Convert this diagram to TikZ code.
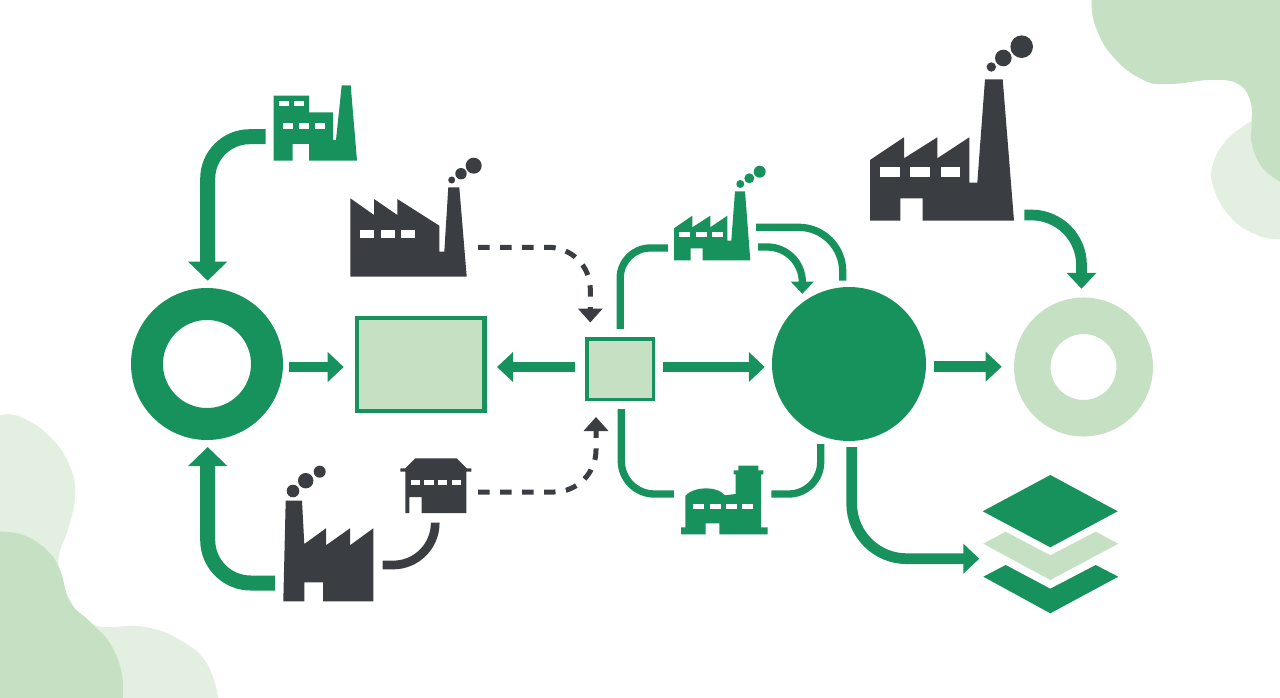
\documentclass[tikz,border=0pt]{standalone}
\usetikzlibrary{arrows.meta}
\definecolor{leaf}{HTML}{18925C}
\definecolor{ink}{HTML}{3A3D42}
\definecolor{pale}{HTML}{C5E0C2}
\definecolor{mist}{HTML}{E3EFE0}
\begin{document}
\begin{tikzpicture}[x=1pt,y=-1pt,
	icon/.style={inner sep=0pt,outer sep=0pt},
	pane/.style={fill=white},
	ring/.style={circle,inner sep=0pt,fill=white},
	panel/.style={draw=leaf,fill=pale,inner sep=0pt},
	bigflow/.style={draw=leaf,line width=15pt,-{Triangle[length=19pt,width=38pt]}},
	midflow/.style={draw=leaf,line width=10.7pt,-{Triangle[length=16pt,width=29pt]}},
	wire/.style={draw=leaf,line width=7.3pt},
	dashflow/.style={draw=ink,line width=5pt,dash pattern=on 11.5pt off 10.5pt,rounded corners=42pt,-{Triangle[length=14pt,width=24pt]}}]
	\useasboundingbox (0,0) rectangle (1280,698);
	\fill[white] (0,0) rectangle (1280,698);
	\fill[mist] plot[smooth,tension=0.75] coordinates {(1250,121.7) (1226.7,140) (1213.3,163.3) (1213.3,186.7) (1230,216.7) (1256.7,235) (1280,239.3)} -- (1280,121.7) -- cycle;
	\fill[pale] plot[smooth,tension=0.75] coordinates {(1091.7,0) (1095,25) (1113,56.7) (1143.3,80) (1170,84) (1210,80) (1236.7,83.3) (1250,100) (1251.7,123.3) (1251.7,143) (1261.7,166.7) (1280,181.7)} -- (1280,0) -- cycle;
	\fill[mist] plot[smooth,tension=0.75] coordinates {(0,415.3) (20,416.7) (50,436.7) (70,466.7) (75,496.7) (68.3,528.3) (58.3,563) (70,600) (93.3,625) (143,626.7) (180,640) (206.7,663.3) (218.3,698)} -- (0,698) -- cycle;
	\fill[pale] plot[smooth,tension=0.75] coordinates {(0,531.7) (23.3,535) (46.7,550) (60,570) (70,601.7) (90,621.7) (110,643.3) (121.7,673.3) (122.7,698)} -- (0,698) -- cycle;

	\node[ring,draw=leaf,line width=32pt,minimum size=120pt] (ringa) at (207,364) {};
	\node[panel,line width=4.5pt,minimum width=127.5pt,minimum height=93pt] (tank) at (420.7,364.5) {};
	\node[panel,line width=3.5pt,minimum width=66.8pt,minimum height=60.5pt] (hub) at (620.2,369.3) {};
	\node[circle,inner sep=0pt,fill=leaf,minimum size=154pt] (core) at (849,364) {};
	\node[ring,draw=pale,line width=36.5pt,minimum size=102.5pt] (ringb) at (1083.5,367) {};

	\node[icon,minimum width=83.3pt,minimum height=75.4pt] (plantup) at (315.3,123) {};
	\fill[leaf] (273.7,95.7) -- (309,95.7) -- (309,112.3) -- (333,112.3) -- (333,140) -- (336,140) -- (341.7,85.3) -- (350.7,85.3) -- (357,160.7) -- (309,160.7) -- (309,144) -- (292.7,144) -- (292.7,160.7) -- (273.7,160.7) -- cycle;
	\foreach \wx in {278.7,294} \fill[pane] (\wx,101) rectangle ++(10,5.3);
	\foreach \wx in {282.7,298.7,314.7} \fill[pane] (\wx,123.3) rectangle ++(10.6,5.4);

	\node[icon,minimum width=116.4pt,minimum height=89.4pt] (plantmid) at (408.5,232) {};
	\fill[ink] (350.3,198.3) -- (374,215) -- (374,199) -- (397.3,215) -- (397.3,199) -- (439.3,225.7) -- (439.3,251.7) -- (444.3,251.7) -- (448.3,187.3) -- (459.3,187.3) -- (466.7,276.7) -- (350.3,276.7) -- cycle;
	\foreach \wx in {360.3,381,401.3} \fill[pane] (\wx,230.3) rectangle ++(13.7,8);
	\foreach \sx/\sy/\sr in {451.7/180/3.5,461/173.7/5.7,473.7/165.7/8} \fill[ink] (\sx,\sy) circle[radius=\sr];

	\node[icon,minimum width=90pt,minimum height=100.6pt] (plantlow) at (328.3,551) {};
	\fill[ink] (283.3,601.3) -- (285.7,500.7) -- (302,500.7) -- (304.3,544) -- (326,528.3) -- (326,545.3) -- (350,528.3) -- (350,545.3) -- (373.3,528.3) -- (373.3,601.3) -- (323,601.3) -- (323,582.3) -- (304.3,582.3) -- (304.3,601.3) -- cycle;
	\foreach \sx/\sy/\sr in {293/491/6.3,305.7/480.7/7.7,319.7/471.7/6} \fill[ink] (\sx,\sy) circle[radius=\sr];

	\node[icon,minimum width=71pt,minimum height=54.7pt] (shed) at (435.8,485.6) {};
	\fill[ink] (405.3,513) -- (405.3,471.7) -- (400.3,471.7) -- (400.3,468.3) -- (405.3,468.3) -- (415.3,458.3) -- (456.7,458.3) -- (466.7,468.3) -- (471.3,468.3) -- (471.3,471.7) -- (466.3,471.7) -- (466.3,513) -- (421.7,513) -- (421.7,497) -- (409.3,497) -- (409.3,513) -- cycle;
	\foreach \wx in {410.7,424.3,438,452} \fill[pane] (\wx,479.7) rectangle ++(9.3,5.6);

	\node[icon,minimum width=76.3pt,minimum height=69pt] (mill) at (712.2,225.8) {};
	\fill[leaf] (674,228.3) -- (692.3,215.7) -- (692.3,227.3) -- (710.3,215.7) -- (710.3,227.3) -- (727.3,215.7) -- (727.3,240.7) -- (731.3,240.7) -- (735,191.3) -- (745,191.3) -- (750.3,260.3) -- (702.7,260.3) -- (702.7,248.3) -- (690.7,248.3) -- (690.7,260.3) -- (674,260.3) -- cycle;
	\foreach \wx in {679,695.7,712} \fill[pane] (\wx,231.7) rectangle ++(11,5.3);
	\foreach \sx/\sy/\sr in {740.3/184/4,749.3/178.3/5,759.7/171.7/6} \fill[leaf] (\sx,\sy) circle[radius=\sr];

	\node[icon,minimum width=86.7pt,minimum height=68.6pt] (works) at (724.3,500) {};
	\fill[leaf] (681,534.3) -- (681,527.3) -- (685.3,527.3) -- (685.3,496) .. controls (692,487) and (716,485) .. (725,495.3) -- (735.7,494) -- (735.7,474.3) -- (733.7,474.3) -- (733.7,470.3) -- (738.3,470.3) -- (738.3,465.7) -- (758.3,465.7) -- (758.3,470.3) -- (763.3,470.3) -- (763.3,474.3) -- (761,474.3) -- (761,527.3) -- (767.7,527.3) -- (767.7,534.3) -- (719.3,534.3) -- (719.3,523.3) -- (705.7,523.3) -- (705.7,534.3) -- cycle;
	\foreach \wx in {693.3,710,726,742.3} \fill[pane] (\wx,503.7) rectangle ++(10.7,5.3);

	\node[icon,minimum width=144pt,minimum height=141.4pt] (planttop) at (942,150) {};
	\fill[ink] (870,160) -- (904,137.3) -- (904,158.3) -- (937.3,137.3) -- (937.3,158.3) -- (969.3,137.3) -- (969.3,182.7) -- (977.3,182.7) -- (985,79.3) -- (1002.7,79.3) -- (1014,220.7) -- (922.7,220.7) -- (922.7,198.3) -- (900.3,198.3) -- (900.3,220.7) -- (870,220.7) -- cycle;
	\foreach \wx in {880.3,910.3,940.7} \fill[pane] (\wx,167.3) rectangle ++(19.7,10);
	\foreach \sx/\sy/\sr in {991.3/67/4.7,1003.3/58/8.3,1021.7/46.7/11.3} \fill[ink] (\sx,\sy) circle[radius=\sr];

	\node[icon,minimum width=135.6pt,minimum height=138.3pt] (stack) at (1050.5,544) {};
	\fill[leaf] (1050.3,475) -- (1117.7,511.3) -- (1050.3,547.3) -- (982.7,511.3) -- cycle;
	\fill[pale] (983.3,543.7) -- (1005.7,531.7) -- (1050.3,555.3) -- (1095.7,531.7) -- (1118.3,543.7) -- (1050.3,580) -- cycle;
	\fill[leaf] (983.3,576.7) -- (1005.7,565) -- (1050.3,588.7) -- (1095.7,565) -- (1118.3,576.7) -- (1050.3,613.3) -- cycle;

	\draw[bigflow,rounded corners=42pt] ([shift={(-8,13.7)}]plantup.west) -| ([shift={(0.7,-7.3)}]ringa.north);
	\draw[bigflow,rounded corners=43pt] ([shift={(-8.3,32)}]plantlow.west) -| ([shift={(0.7,7)}]ringa.south);
	\draw[midflow] ([shift={(6.3,3)}]ringa.east) -- ([shift={(-11,2.5)}]tank.west);
	\draw[midflow] ([shift={(-9.7,-2.3)}]hub.west) -- ([shift={(10.3,2.5)}]tank.east);
	\draw[midflow] ([shift={(7.7,-2.3)}]hub.east) -- ([shift={(-7,3)}]core.west);
	\draw[midflow] ([shift={(7.7,2.7)}]core.east) -- ([shift={(-12.3,-0.3)}]ringb.west);
	\draw[midflow,rounded corners=50pt] ([shift={(10.3,65)}]planttop.east) -| ([shift={(-2,-8.7)}]ringb.north);
	\draw[midflow,rounded corners=55pt] ([shift={(2.7,6)}]core.south) |- ([shift={(-3.4,14.7)}]stack.west);
	\draw[wire,rounded corners=30pt] ([shift={(-6.3,22.2)}]mill.west) -| ([shift={(0,-8.4)}]hub.north);
	\draw[wire,rounded corners=44pt] ([shift={(5.7,1.5)}]mill.east) -| ([shift={(-6.3,-6.3)}]core.north);
	\draw[wire,rounded corners=35pt,-{Triangle[length=12.3pt,width=22.7pt]}] ([shift={(7.7,21.2)}]mill.east) -| ([shift={(-46.7,7)}]core.north);
	\draw[wire,rounded corners=33pt] ([shift={(1.1,7.7)}]hub.south) |- ([shift={(-7,-6)}]works.west);
	\draw[wire,rounded corners=32pt] ([shift={(3.6,-6)}]works.east) -| ([shift={(-28.3,3)}]core.south);
	\draw[ink,line width=8.7pt,rounded corners=42pt] ([shift={(9.4,14)}]plantlow.east) -| ([shift={(-0.6,9.7)}]shed.south);
	\draw[dashflow] ([shift={(11.5,15.3)}]plantmid.east) -| ([shift={(-29.9,-14.8)}]hub.north);
	\draw[dashflow] ([shift={(6.7,6.4)}]shed.east) -| ([shift={(-24.2,15.7)}]hub.south);
\end{tikzpicture}
\end{document}
